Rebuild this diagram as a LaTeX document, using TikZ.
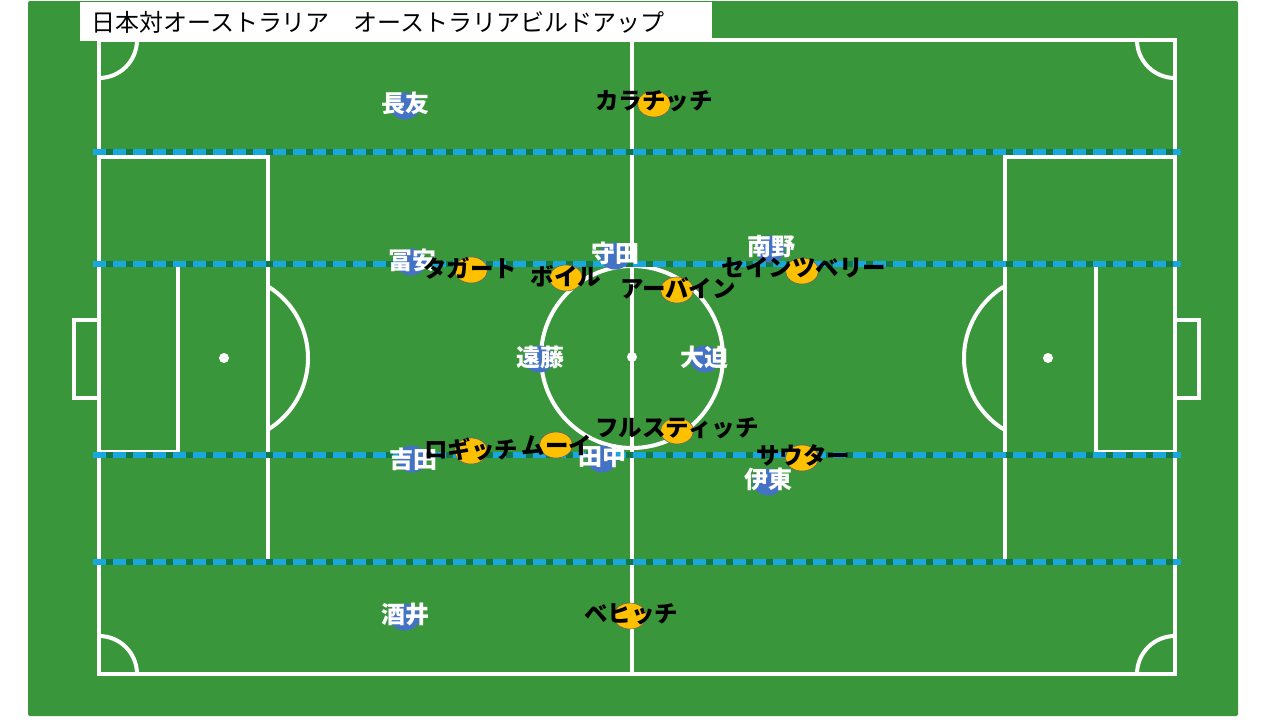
\documentclass[tikz,border=0pt]{standalone}
\usepackage{fontspec}
\newfontfamily\jp{Noto Sans CJK JP}
\definecolor{pitchGreen}{RGB}{58,150,58}
\definecolor{lineGreen}{RGB}{20,120,70}
\definecolor{zoneBlue}{RGB}{25,168,222}
\definecolor{jpnBlue}{RGB}{68,114,196}
\definecolor{ausGold}{RGB}{255,192,0}
\usetikzlibrary{shapes.geometric}

\tikzset{
  pline/.style={white,line width=4pt},
  jpndot/.style={ellipse,fill=jpnBlue,minimum width=30pt,minimum height=27pt,inner sep=0pt},
  ausdot/.style={ellipse,fill=ausGold,draw=black!60,line width=0.6pt,minimum width=33pt,minimum height=26pt,inner sep=0pt},
  jpnname/.style={text=white,font=\jp\bfseries\fontsize{24}{24}\selectfont,inner sep=0pt},
  ausname/.style={text=black,font=\jp\bfseries\fontsize{23.5}{23.5}\selectfont,inner sep=0pt},
  zone/.style={dash pattern=on 13pt off 7pt,zoneBlue,line width=5.5pt}
}

\begin{document}
\begin{tikzpicture}[x=1pt,y=-1pt]
\useasboundingbox (0,0) rectangle (1280,720);
\fill[white] (0,0) rectangle (1280,720);
\fill[pitchGreen,rounded corners=2pt] (28,1) rectangle (1238,716);

% pitch
\draw[pline] (99,40) rectangle (1175,674);
\draw[pline] (632,40) -- (632,674);
\draw[pline] (632,357) circle[radius=91];
\fill[white] (632,357) circle[radius=5];
% left end
\draw[pline] (99,157) rectangle (268,563);
\draw[pline] (99,265) rectangle (178,452);
\draw[pline] (99,320) -- (74,320) -- (74,398) -- (99,398);
\fill[white] (224,358) circle[radius=5];
\draw[pline] (224,358) ++(-58:84) arc[start angle=-58,end angle=58,radius=84];
% right end
\draw[pline] (1005,157) rectangle (1175,563);
\draw[pline] (1096,265) rectangle (1175,452);
\draw[pline] (1175,320) -- (1199,320) -- (1199,398) -- (1175,398);
\fill[white] (1048,358) circle[radius=5];
\draw[pline] (1048,358) ++(122:84) arc[start angle=122,end angle=238,radius=84];
% corners
\draw[pline] (137,40) arc[start angle=0,end angle=90,radius=38];
\draw[pline] (1137,40) arc[start angle=180,end angle=90,radius=38];
\draw[pline] (137,674) arc[start angle=0,end angle=-90,radius=38];
\draw[pline] (1137,674) arc[start angle=180,end angle=270,radius=38];

% zones
\foreach \yy in {152,264,455,562}{
  \draw[lineGreen,line width=5.5pt] (93,\yy) -- (1181,\yy);
  \draw[zone] (93,\yy) -- (1181,\yy);
}

% title
\fill[white] (80,2) rectangle (712,41);
\node[anchor=west,inner sep=0pt,font=\jp\fontsize{24}{24}\selectfont] (title) at (91,22) {日本対オーストラリア　オーストラリアビルドアップ};

% Japan
\node[jpndot] (nagatomo-dot) at (405,106) {};
\node[jpndot] (tomiyasu-dot) at (411,262) {};
\node[jpndot] (morita-dot) at (615,256) {};
\node[jpndot] (minamino-dot) at (770,249) {};
\node[jpndot] (endo-dot) at (539,359) {};
\node[jpndot] (osako-dot) at (705,359) {};
\node[jpndot] (yoshida-dot) at (412,459) {};
\node[jpndot] (tanaka-dot) at (602,459) {};
\node[jpndot] (ito-dot) at (768,482) {};
\node[jpndot] (sakai-dot) at (405,617) {};

% Australia
\node[ausdot] (karacic-dot) at (654,104) {};
\node[ausdot] (taggart-dot) at (471,270) {};
\node[ausdot] (boyle-dot) at (566,278) {};
\node[ausdot] (irvine-dot) at (677,290) {};
\node[ausdot] (sainsbury-dot) at (802,271) {};
\node[ausdot] (mrcstich-dot) at (677,431) {};
\node[ausdot] (rogic-dot) at (471,451) {};
\node[ausdot] (mooy-dot) at (556,445) {};
\node[ausdot] (souttar-dot) at (802,458) {};
\node[ausdot] (behich-dot) at (630,616) {};

\node[jpnname] (nagatomo) at (405,103) {長友};
\node[jpnname] (tomiyasu) at (412,260) {冨安};
\node[jpnname] (morita) at (615,253) {守田};
\node[jpnname] (minamino) at (771,246) {南野};
\node[jpnname] (endo) at (540,357) {遠藤};
\node[jpnname] (osako) at (704,357) {大迫};
\node[jpnname] (yoshida) at (413,459) {吉田};
\node[jpnname] (tanaka) at (602,456) {田中};
\node[jpnname] (ito) at (768,479) {伊東};
\node[jpnname] (sakai) at (405,614) {酒井};

\node[ausname] (karacic) at (654,101) {カラチッチ};
\node[ausname] (taggart) at (470,268) {タガート};
\node[ausname] (boyle) at (566,276) {ボイル};
\node[ausname] (irvine) at (678,288) {アーバイン};
\node[ausname] (sainsbury) at (804,268) {セインツベリー};
\node[ausname] (mrcstich) at (677,428) {フルスティッチ};
\node[ausname] (rogic) at (471,449) {ロギッチ};
\node[ausname] (mooy) at (557,445) {ムーイ};
\node[ausname] (souttar) at (803,455) {サウター};
\node[ausname] (behich) at (631,614) {ベヒッチ};
\end{tikzpicture}
\end{document}
